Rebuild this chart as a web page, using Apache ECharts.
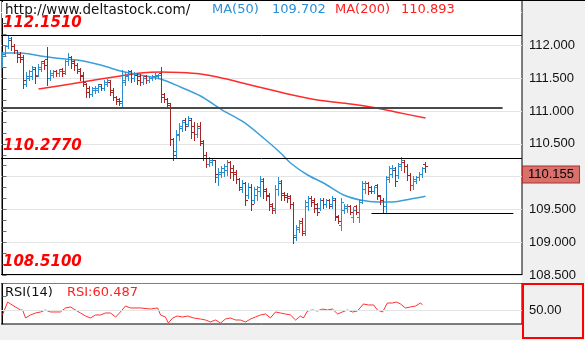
<!DOCTYPE html>
<html>
<head>
<meta charset="utf-8">
<script src="https://cdn.jsdelivr.net/npm/echarts@6/dist/echarts.min.js"></script>
<style>
  html, body { margin: 0; padding: 0; background: #f0f0f0; }
  #chart { width: 585px; height: 340px; }
</style>
</head>
<body>
<div id="chart"></div>
<script>
// ---- price bars (one entry per session, oldest first) ----
const opens = [
  111.72, 111.87, 111.99, 112.08, 111.99, 111.92, 111.86, 111.81, 111.41, 111.50,
  111.53, 111.64, 111.55, 111.64, 111.75, 111.78, 111.50, 111.55, 111.60, 111.57,
  111.63, 111.60, 111.75, 111.81, 111.75, 111.70, 111.63, 111.55, 111.40, 111.35,
  111.26, 111.31, 111.32, 111.40, 111.35, 111.41, 111.44, 111.32, 111.21, 111.18,
  111.12, 111.44, 111.53, 111.60, 111.49, 111.55, 111.52, 111.44, 111.52, 111.47,
  111.49, 111.52, 111.52, 111.57, 111.25, 111.17, 111.09, 110.56, 110.38, 110.62,
  110.74, 110.85, 110.80, 110.86, 110.77, 110.65, 110.77, 110.51, 110.33, 110.19,
  110.22, 110.24, 109.98, 110.04, 110.07, 110.10, 110.21, 110.13, 110.07, 109.95,
  109.81, 109.89, 109.72, 109.83, 109.64, 109.71, 109.77, 109.93, 109.80, 109.72,
  109.58, 109.51, 109.80, 109.90, 109.74, 109.72, 109.69, 109.57, 109.10, 109.20,
  109.31, 109.16, 109.55, 109.67, 109.64, 109.57, 109.52, 109.64, 109.57, 109.63,
  109.57, 109.64, 109.39, 109.25, 109.48, 109.51, 109.55, 109.37, 109.54, 109.37,
  109.64, 109.80, 109.89, 109.83, 109.78, 109.86, 109.69, 109.64, 109.55, 109.98,
  110.04, 110.10, 110.01, 110.16, 110.22, 110.16, 110.01, 109.87, 109.93, 109.98,
  110.03, 110.18
];
const highs = [
  111.90, 112.01, 112.151, 112.13, 112.02, 111.93, 111.90, 111.86, 111.60, 111.63,
  111.69, 111.67, 111.72, 111.76, 111.78, 111.98, 111.63, 111.63, 111.63, 111.64,
  111.66, 111.78, 111.89, 111.84, 111.78, 111.73, 111.66, 111.60, 111.43, 111.38,
  111.37, 111.38, 111.41, 111.41, 111.47, 111.49, 111.47, 111.35, 111.23, 111.20,
  111.63, 111.60, 111.63, 111.63, 111.60, 111.58, 111.57, 111.53, 111.55, 111.53,
  111.55, 111.58, 111.57, 111.67, 111.28, 111.20, 111.12, 110.59, 110.71, 110.82,
  110.86, 110.90, 110.93, 110.90, 110.83, 110.82, 110.83, 110.56, 110.38, 110.30,
  110.29, 110.25, 110.13, 110.16, 110.19, 110.25, 110.24, 110.18, 110.10, 109.98,
  109.95, 109.92, 109.90, 109.89, 109.84, 109.86, 110.01, 109.98, 109.83, 109.75,
  109.60, 109.87, 110.00, 109.95, 109.77, 109.75, 109.72, 109.61, 109.26, 109.34,
  109.37, 109.64, 109.71, 109.71, 109.67, 109.60, 109.67, 109.67, 109.66, 109.66,
  109.71, 109.67, 109.42, 109.67, 109.58, 109.58, 109.57, 109.54, 109.57, 109.64,
  109.93, 109.93, 109.92, 109.86, 109.86, 109.89, 109.72, 109.67, 110.01, 110.16,
  110.18, 110.15, 110.21, 110.30, 110.25, 110.19, 110.06, 110.01, 110.01, 110.07,
  110.15, 110.22
];
const lows = [
  111.67, 111.84, 111.96, 111.93, 111.89, 111.75, 111.75, 111.35, 111.38, 111.47,
  111.49, 111.43, 111.53, 111.61, 111.64, 111.40, 111.47, 111.52, 111.53, 111.53,
  111.53, 111.57, 111.70, 111.66, 111.63, 111.58, 111.47, 111.38, 111.21, 111.21,
  111.23, 111.28, 111.29, 111.32, 111.32, 111.38, 111.25, 111.17, 111.11, 111.09,
  111.05, 111.40, 111.47, 111.44, 111.46, 111.41, 111.40, 111.41, 111.43, 111.44,
  111.47, 111.49, 111.50, 111.14, 111.14, 111.08, 110.48, 110.25, 110.29, 110.56,
  110.70, 110.71, 110.77, 110.59, 110.56, 110.61, 110.48, 110.25, 110.15, 110.16,
  110.18, 109.92, 109.87, 110.00, 110.01, 110.03, 109.98, 109.95, 109.90, 109.80,
  109.77, 109.57, 109.68, 109.49, 109.60, 109.64, 109.71, 109.68, 109.64, 109.49,
  109.45, 109.45, 109.72, 109.64, 109.64, 109.61, 109.52, 108.99, 109.03, 109.16,
  109.11, 109.11, 109.49, 109.55, 109.46, 109.42, 109.49, 109.52, 109.54, 109.52,
  109.52, 109.34, 109.29, 109.19, 109.45, 109.46, 109.43, 109.31, 109.43, 109.31,
  109.60, 109.75, 109.74, 109.75, 109.75, 109.66, 109.58, 109.45, 109.45, 109.92,
  110.00, 109.86, 109.98, 110.10, 110.07, 109.95, 109.80, 109.81, 109.90, 109.95,
  110.00, 110.07
];
const closes = [
  111.86, 111.98, 112.11, 111.98, 111.93, 111.81, 111.78, 111.47, 111.53, 111.60,
  111.66, 111.52, 111.67, 111.73, 111.69, 111.50, 111.58, 111.60, 111.57, 111.61,
  111.57, 111.75, 111.82, 111.72, 111.69, 111.61, 111.53, 111.43, 111.28, 111.25,
  111.34, 111.35, 111.38, 111.35, 111.44, 111.47, 111.29, 111.21, 111.15, 111.14,
  111.47, 111.55, 111.60, 111.50, 111.57, 111.47, 111.44, 111.50, 111.47, 111.50,
  111.53, 111.55, 111.55, 111.21, 111.17, 111.11, 110.56, 110.32, 110.64, 110.76,
  110.83, 110.77, 110.88, 110.68, 110.64, 110.74, 110.53, 110.32, 110.19, 110.25,
  110.25, 110.03, 110.07, 110.13, 110.16, 110.21, 110.07, 110.03, 109.95, 109.84,
  109.90, 109.64, 109.84, 109.57, 109.80, 109.83, 109.95, 109.77, 109.69, 109.55,
  109.49, 109.80, 109.93, 109.71, 109.68, 109.66, 109.57, 109.07, 109.22, 109.29,
  109.14, 109.60, 109.66, 109.60, 109.52, 109.46, 109.64, 109.57, 109.63, 109.55,
  109.66, 109.37, 109.31, 109.61, 109.55, 109.55, 109.46, 109.49, 109.46, 109.60,
  109.89, 109.89, 109.78, 109.78, 109.84, 109.71, 109.63, 109.55, 109.95, 110.12,
  110.13, 109.93, 110.18, 110.25, 110.15, 110.01, 109.86, 109.95, 109.98, 110.04,
  110.12, 110.155
];

// ---- moving averages: [bar index, value] ----
const ma50 = [
  [0, 111.886], [6, 111.886], [12.7, 111.84], [19.3, 111.80], [25, 111.779],
  [32.7, 111.703], [36, 111.657], [39.3, 111.611], [46, 111.55], [52.7, 111.489],
  [59.3, 111.367], [66, 111.23], [73.3, 111.016], [80.3, 110.834], [87, 110.589],
  [92.7, 110.361], [96, 110.208], [101.7, 110.025], [107, 109.903], [113.7, 109.72],
  [119.3, 109.644], [125, 109.614], [130, 109.614], [136, 109.659], [141, 109.702]
];
const ma200 = [
  [12, 111.337], [22.7, 111.413], [32.7, 111.489], [39.3, 111.535], [46, 111.581],
  [52.7, 111.596], [59.3, 111.588], [66, 111.566], [71.7, 111.52], [82.7, 111.398],
  [93.7, 111.276], [105, 111.169], [116, 111.108], [122.7, 111.062], [131, 110.986],
  [141, 110.893]
];

// ---- RSI(14): [bar index, value] ----
const rsi14 = [
  [0, 41.5], [1.7, 65.2], [2.7, 61.6], [4.3, 56.1], [6, 50.6], [6.7, 50.6], [7.7, 36.0],
  [9.3, 41.5], [11, 45.1], [12.7, 47.0], [14.3, 50.6], [16, 47.0], [19.3, 47.0],
  [21, 54.3], [22.7, 56.1], [24.3, 50.6], [26, 45.1], [27.7, 39.6], [29.3, 36.0],
  [31, 41.5], [32.7, 41.5], [34.3, 45.1], [36, 45.1], [37.7, 37.8], [38.3, 36.0],
  [39.3, 47.0], [41, 57.9], [42.7, 54.3], [46, 54.3], [49.3, 52.4], [51.7, 54.3],
  [52.7, 41.5], [54.3, 37.8], [55.3, 26.8], [56.7, 36.0], [58.3, 39.6], [60, 37.8],
  [61.7, 39.6], [63.7, 36.0], [66, 34.1], [67.7, 32.3], [69.3, 28.7], [71, 32.3],
  [72.7, 26.8], [74.3, 34.1], [76, 36.0], [77.7, 32.3], [79.3, 32.3], [81, 28.7],
  [82.7, 34.1], [84.3, 37.8], [86, 41.5], [87.7, 43.3], [89.3, 36.0], [91, 47.0],
  [92.7, 45.1], [94.3, 43.3], [96, 41.5], [97.7, 32.3], [99.3, 39.6], [100.3, 36.0],
  [101.7, 48.8], [103.3, 50.6], [105, 48.8], [106.7, 52.4], [108.3, 50.6], [110, 52.4],
  [111.7, 43.3], [113.3, 47.0], [115, 50.6], [116.7, 47.0], [118.3, 48.8], [120.3, 61.6],
  [122, 59.8], [123.7, 59.8], [125, 50.6], [126.7, 47.0], [128.3, 63.4], [130, 63.4],
  [131.3, 65.2], [132.7, 61.6], [134.3, 54.3], [136, 56.1], [137.7, 57.9], [139.3, 63.4],
  [140, 60.487]
];

// ---- support / resistance levels ----
const keyLevels = [112.151, 110.277, 108.51];           // labelled, full width
const sideLevels = [                                      // [value, from bar, to bar]
  [111.05, -0.5, 166.7],
  [109.44, 123, 170.3]
];
const rsiMid = 50;
const lastPrice = closes[closes.length - 1];
const lastMa50 = ma50[ma50.length - 1][1];
const lastMa200 = ma200[ma200.length - 1][1];
const lastRsi = rsi14[rsi14.length - 1][1];

const UP = '#2a8fd0';
const DOWN = '#a82424';
const X_MIN = -0.5, X_MAX = 173.17;
const AXIS_FONT = '"Liberation Sans", Arial, sans-serif';
const HEAD_FONT = '"DejaVu Sans", Verdana, sans-serif';

const bars = opens.map((o, i) => [i, o, highs[i], lows[i], closes[i]]);

// OHLC bar: vertical high-low stroke, open tick on the left, close tick on the right
function renderBar(params, api) {
  const i = api.value(0);
  const o = api.coord([i, api.value(1)]);
  const h = api.coord([i, api.value(2)]);
  const l = api.coord([i, api.value(3)]);
  const c = api.coord([i, api.value(4)]);
  const color = api.value(4) >= api.value(1) ? UP : DOWN;
  const col = Math.round(o[0] - 0.5);
  const x = col + 0.5;
  const snap = v => Math.round(v - 0.5) + 0.5;
  const st = { stroke: color, lineWidth: 1 };
  return {
    type: 'group',
    children: [
      { type: 'line', shape: { x1: x, y1: Math.round(h[1]), x2: x, y2: Math.round(l[1]) + 1 }, style: st },
      { type: 'line', shape: { x1: col - 2, y1: snap(o[1]), x2: col, y2: snap(o[1]) }, style: st },
      { type: 'line', shape: { x1: col + 1, y1: snap(c[1]), x2: col + 3, y2: snap(c[1]) }, style: st }
    ]
  };
}

const levelLabel = {
  show: true,
  position: 'insideStartTop',
  distance: [2, 5],
  formatter: p => Number(p.value).toFixed(4),
  color: '#ff0000',
  fontFamily: HEAD_FONT,
  fontSize: 15,
  fontWeight: 'bold',
  fontStyle: 'italic'
};

const levelLines = keyLevels.map(v => ({
  yAxis: v,
  lineStyle: { color: '#000', width: 1, type: 'solid' },
  label: levelLabel
}));
const sideLines = sideLevels.map((s, k) => [
  {
    coord: [s[1], s[0]],
    lineStyle: k === 0 ? { color: '#4a4a4a', width: 2, type: 'solid' } : { color: '#000', width: 1, type: 'solid' },
    label: { show: false }
  },
  { coord: [s[2], s[0]] }
]);

const option = {
  backgroundColor: '#f0f0f0',
  animation: false,
  grid: [
    { left: 1, top: 0, width: 521, height: 275, show: true, backgroundColor: '#fff', borderColor: '#000', borderWidth: 1 },
    { left: 1, top: 283, width: 521, height: 41, show: true, backgroundColor: '#fff', borderColor: '#000', borderWidth: 1 }
  ],
  xAxis: [
    { type: 'value', gridIndex: 0, min: X_MIN, max: X_MAX, show: false },
    { type: 'value', gridIndex: 1, min: X_MIN, max: X_MAX, show: false }
  ],
  yAxis: [
    {
      type: 'value', gridIndex: 0, position: 'right',
      min: 108.5, max: 112.694, interval: 0.5,
      axisLine: { show: true, lineStyle: { color: '#000' } },
      axisTick: { show: true, length: 4, lineStyle: { color: '#6e6e6e' } },
      minorTick: { show: true, splitNumber: 3, length: 4, lineStyle: { color: '#6e6e6e' } },
      splitLine: { show: true, lineStyle: { color: '#e4e4e4' } },
      axisLabel: {
        margin: 7, color: '#111', fontSize: 13, fontFamily: AXIS_FONT,
        formatter: v => (v > 112.2 ? '' : v.toFixed(3))
      }
    },
    {
      type: 'value', gridIndex: 1, position: 'right',
      min: 25, max: 100, interval: 25,
      axisLine: { show: true, lineStyle: { color: '#000' } },
      axisTick: { show: true, length: 4, lineStyle: { color: '#6e6e6e' } },
      splitLine: { show: false },
      axisLabel: {
        margin: 7, color: '#111', fontSize: 13, fontFamily: AXIS_FONT,
        formatter: v => (v === rsiMid ? v.toFixed(2) : '')
      }
    }
  ],
  series: [
    {
      name: 'MA(200)', type: 'line', xAxisIndex: 0, yAxisIndex: 0,
      data: ma200, showSymbol: false, smooth: 0.3, silent: true,
      lineStyle: { color: '#ff2b2b', width: 1.5 }, z: 3
    },
    {
      name: 'MA(50)', type: 'line', xAxisIndex: 0, yAxisIndex: 0,
      data: ma50, showSymbol: false, smooth: 0.3, silent: true,
      lineStyle: { color: '#3a9fdc', width: 1.5 }, z: 3,
      markLine: {
        silent: true, symbol: 'none', animation: false, precision: 4,
        data: levelLines.concat(sideLines)
      }
    },
    {
      name: 'USDJPY', type: 'custom', xAxisIndex: 0, yAxisIndex: 0,
      data: bars, renderItem: renderBar, clip: true, silent: true, z: 4,
      encode: { x: 0, y: [1, 2, 3, 4] },
      markLine: {
        silent: true, symbol: 'none', animation: false, precision: 3,
        data: [{
          yAxis: lastPrice,
          lineStyle: { color: 'transparent', width: 0 },
          label: {
            show: true, position: 'end', distance: 1, offset: [0, 8],
            formatter: p => Number(p.value).toFixed(3),
            color: '#000', fontSize: 13, fontFamily: AXIS_FONT,
            backgroundColor: '#d9706b', borderColor: '#a8332f', borderWidth: 1,
            padding: [2, 5, 1, 5]
          }
        }]
      }
    },
    {
      name: 'RSI', type: 'line', xAxisIndex: 1, yAxisIndex: 1,
      data: rsi14, showSymbol: false, silent: true,
      lineStyle: { color: '#ff3030', width: 1 },
      markLine: {
        silent: true, symbol: 'none', animation: false,
        data: [{ yAxis: rsiMid, lineStyle: { color: '#e4e4e4', width: 1, type: 'solid' }, label: { show: false } }]
      }
    }
  ],
  graphic: {
    elements: [
      // header band and gap between panels
      { type: 'rect', shape: { x: 2, y: 2, width: 519, height: 16 }, style: { fill: '#fff' }, z: 1, silent: true },
      { type: 'rect', shape: { x: 0, y: 276, width: 522, height: 7 }, style: { fill: '#fff' }, z: 1, silent: true },
      { type: 'rect', shape: { x: 0, y: 0, width: 1, height: 324 }, style: { fill: '#fff' }, z: 1, silent: true },
      { type: 'line', shape: { x1: 0, y1: 0.5, x2: 585, y2: 0.5 }, style: { stroke: '#000', lineWidth: 1 }, z: 5, silent: true },
      // header texts
      { type: 'text', x: 5, y: 10, z: 6, silent: true,
        style: { text: 'http://www.deltastock.com/', font: '13.5px ' + HEAD_FONT, fill: '#111', verticalAlign: 'middle' } },
      { type: 'text', x: 212, y: 10, z: 6, silent: true,
        style: { text: 'MA(50)', font: '13px ' + HEAD_FONT, fill: '#2b8fd6', verticalAlign: 'middle' } },
      { type: 'text', x: 272, y: 10, z: 6, silent: true,
        style: { text: lastMa50.toFixed(3), font: '13px ' + HEAD_FONT, fill: '#2b8fd6', verticalAlign: 'middle' } },
      { type: 'text', x: 335, y: 10, z: 6, silent: true,
        style: { text: 'MA(200)', font: '13px ' + HEAD_FONT, fill: '#ff1f1f', verticalAlign: 'middle' } },
      { type: 'text', x: 401, y: 10, z: 6, silent: true,
        style: { text: lastMa200.toFixed(3), font: '13px ' + HEAD_FONT, fill: '#ff1f1f', verticalAlign: 'middle' } },
      // RSI panel texts
      { type: 'text', x: 5, y: 293, z: 6, silent: true,
        style: { text: 'RSI(14)', font: '13px ' + HEAD_FONT, fill: '#111', verticalAlign: 'middle' } },
      { type: 'text', x: 67, y: 293, z: 6, silent: true,
        style: { text: 'RSI:' + lastRsi.toFixed(3), font: '13px ' + HEAD_FONT, fill: '#ff1f1f', verticalAlign: 'middle' } },
      // highlighted RSI scale box
      { type: 'rect', shape: { x: 523, y: 284, width: 60, height: 54 }, style: { fill: null, stroke: '#ff0000', lineWidth: 2 }, z: 6, silent: true }
    ]
  }
};

const chart = echarts.init(document.getElementById('chart'), null, { renderer: 'canvas' });
chart.setOption(option);
</script>
</body>
</html>
